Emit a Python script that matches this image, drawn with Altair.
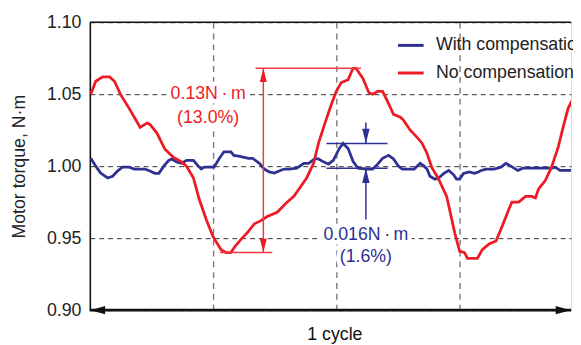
import altair as alt
import pandas as pd

# ---- data (phase in degrees of the displayed window, torque in N·m) ----
red_phase = [0.7, 4.3, 9.4, 14.4, 18.0, 22.3, 28.8, 36.7, 41.8, 43.9, 49.0, 54.7, 61.2, 67.0, 70.6,
             75.6, 79.9, 85.0, 90.0, 95.8, 99.4, 103.0, 105.8, 110.2, 115.2, 120.2, 124.6, 129.6,
             136.8, 144.0, 149.0, 153.4, 158.4, 163.4, 167.0, 171.4, 176.4, 180.0, 183.6, 188.6,
             192.2, 194.4, 199.4, 203.8, 206.6, 210.2, 213.8, 217.4, 221.8, 226.8, 229.0, 234.0,
             239.0, 242.6, 246.2, 249.8, 254.2, 260.6, 266.4, 270.0, 273.6, 275.8, 283.0, 286.6,
             291.6, 296.6, 301.0, 306.0, 308.2, 313.2, 318.2, 322.6, 325.4, 327.6, 332.6, 337.0,
             342.0, 345.6, 349.2, 352.8]
red_torque = [1.050, 1.059, 1.062, 1.062, 1.059, 1.050, 1.040, 1.027, 1.030, 1.029, 1.023, 1.012,
              1.006, 1.003, 1.000, 0.992, 0.977, 0.963, 0.951, 0.942, 0.940, 0.940, 0.944, 0.949,
              0.954, 0.960, 0.962, 0.965, 0.968, 0.975, 0.979, 0.985, 0.992, 1.002, 1.016, 1.029,
              1.043, 1.052, 1.058, 1.060, 1.068, 1.068, 1.061, 1.051, 1.050, 1.052, 1.052, 1.045,
              1.036, 1.034, 1.032, 1.025, 1.020, 1.016, 1.009, 0.999, 0.992, 0.979, 0.954, 0.941,
              0.940, 0.936, 0.936, 0.942, 0.946, 0.948, 0.958, 0.970, 0.975, 0.975, 0.979, 0.979,
              0.978, 0.984, 0.990, 0.999, 1.013, 1.027, 1.040, 1.047]

blue_phase = [0.7, 4.3, 7.9, 13.0, 16.6, 20.2, 23.8, 28.8, 32.4, 40.3, 43.9, 47.5, 50.4, 54.0, 57.6,
              59.8, 63.4, 67.0, 70.6, 75.6, 79.2, 81.4, 83.5, 90.7, 94.3, 97.9, 103.0, 105.1, 108.7,
              115.9, 118.8, 123.8, 127.4, 131.0, 134.6, 138.2, 141.8, 145.4, 151.2, 156.2, 159.8,
              164.2, 167.0, 170.6, 174.2, 177.8, 182.2, 185.0, 188.6, 192.2, 195.8, 201.6, 206.6,
              210.2, 213.8, 218.2, 221.8, 225.4, 228.2, 236.9, 241.2, 244.1, 246.2, 248.4, 252.0,
              254.9, 258.5, 262.1, 265.7, 267.8, 270.0, 272.9, 277.2, 280.8, 283.7, 285.8, 289.4,
              295.2, 300.2, 303.8, 307.4, 312.5, 316.1, 337.7, 339.8, 343.4, 352.1]
blue_torque = [1.0055, 1.000, 0.9952, 0.9918, 0.993, 0.9966, 0.9993, 0.9993, 0.998, 0.998, 0.9966,
               0.995, 0.995, 1.000, 1.004, 1.005, 1.003, 1.002, 1.004, 1.004, 1.000, 0.998, 0.9993,
               0.9993, 1.005, 1.010, 1.010, 1.0075, 1.007, 1.0055, 1.0055, 1.002, 0.998, 0.996,
               0.9952, 0.9966, 0.998, 0.998, 0.9986, 1.002, 1.002, 1.005, 1.005, 1.003, 1.0014,
               1.004, 1.0123, 1.0158, 1.0123, 1.0034, 0.9986, 0.998, 0.998, 1.0014, 1.0055, 1.0075,
               1.005, 1.000, 0.998, 0.998, 1.002, 1.000, 0.998, 0.993, 0.991, 0.992, 0.995, 0.997,
               0.994, 0.991, 0.991, 0.995, 0.996, 0.995, 0.996, 0.997, 0.998, 0.998, 0.9993, 1.002,
               1.000, 0.997, 0.9986, 0.9986, 0.9993, 0.997, 0.997]

series_names = ["With compensation", "No compensation"]
series_colors = ["#2e3192", "#ed1c24"]

y_ticks = [0.90, 0.95, 1.00, 1.05, 1.10]
x_grid = [90, 180, 270]
x_max = 351.4
y_min, y_max = 0.90, 1.10

# annotations: segments (x, y, x2, y2)
red_seg_x = [121.0, 95.0, 126.7]
red_seg_y = [1.068, 0.940, 0.940]
red_seg_x2 = [198.0, 133.2, 126.7]
red_seg_y2 = [1.068, 0.940, 1.068]

blue_seg_x = [172.8, 172.8, 201.6, 201.6]
blue_seg_y = [1.0158, 0.9986, 1.0303, 0.963]
blue_seg_x2 = [217.4, 217.4, 201.6, 201.6]
blue_seg_y2 = [1.0158, 0.9986, 1.0158, 0.9986]

red_text = ["0.13N\u2009·\u2009m", "(13.0%)"]
red_text_x = [86.4, 86.4]
red_text_y = [1.050, 1.0336]
blue_text = ["0.016N\u2009·\u2009m", "(1.6%)"]
blue_text_x = [201.6, 201.6]
blue_text_y = [0.952, 0.937]

FONT = "Liberation Sans"

# ---- frames ----
lines_df = pd.concat([
    pd.DataFrame({"x": blue_phase, "y": blue_torque, "series": series_names[0]}),
    pd.DataFrame({"x": red_phase, "y": red_torque, "series": series_names[1]}),
])
blue_df = lines_df[lines_df.series == series_names[0]]
red_df = lines_df[lines_df.series == series_names[1]]

xscale = alt.Scale(domain=[0, x_max], nice=False, zero=False)
yscale = alt.Scale(domain=[y_min, y_max], nice=False, zero=False)
xaxis = alt.Axis(values=x_grid, labels=False, ticks=False, domain=False, grid=True,
                 gridDash=[6, 5], gridColor="#7a7a7a", gridWidth=1.4,
                 title="1 cycle", titleFontSize=18, titleFontWeight="normal", titleColor="#111",
                 titleFont=FONT, titleX=248, titleY=30, titleBaseline="alphabetic")
yaxis = alt.Axis(values=y_ticks, format=".2f", ticks=False, domain=True, domainColor="#111",
                 domainWidth=1.6, grid=True, gridDash=[5, 4], gridColor="#333", gridWidth=1,
                 labelFontSize=18, labelFont=FONT, labelColor="#222", labelPadding=9,
                 title="Motor torque, N·m", titleFontSize=18, titleFontWeight="normal",
                 titleFont=FONT, titleColor="#222", titleX=-71, titleY=146,
                 titleBaseline="middle", titleAlign="center")

X = alt.X("x:Q", scale=xscale, axis=xaxis)
Y = alt.Y("y:Q", scale=yscale, axis=yaxis)

cscale = alt.Scale(domain=series_names, range=series_colors)
legend = alt.Legend(orient="none", legendX=311, legendY=9, title=None, symbolType="stroke",
                    symbolSize=676, symbolStrokeWidth=3, labelFontSize=18, labelFont=FONT,
                    labelColor="#222", labelOffset=11, rowPadding=4, padding=0, labelLimit=300)
C = alt.Color("series:N", scale=cscale, legend=legend)

blue_line = alt.Chart(blue_df).mark_line(strokeWidth=2.8, clip=True).encode(x=X, y=Y, color=C)
red_line = alt.Chart(red_df).mark_line(strokeWidth=2.8, clip=True).encode(x=X, y=Y, color=C)

# frame: top border and bottom double arrow
frame_df = pd.DataFrame({"x": [0.0, 0.0], "x2": [x_max, x_max], "y": [y_max, y_min]})
top_rule = alt.Chart(frame_df.iloc[[0]]).mark_rule(color="#111", strokeWidth=1.6).encode(
    x=X, x2="x2:Q", y=Y)
bottom_rule = alt.Chart(frame_df.iloc[[1]]).mark_rule(color="#111", strokeWidth=2.6).encode(
    x=X, x2="x2:Q", y=Y)
left_head = alt.Chart(pd.DataFrame({"x": [0.0], "y": [y_min]})).mark_point(
    shape="M-1,0L1,-0.55L1,0.55Z", size=225, filled=True, opacity=1, color="#111",
    xOffset=8).encode(x=X, y=Y)
right_head = alt.Chart(pd.DataFrame({"x": [x_max], "y": [y_min]})).mark_point(
    shape="M1,0L-1,-0.55L-1,0.55Z", size=225, filled=True, opacity=1, color="#111",
    xOffset=-8).encode(x=X, y=Y)

# annotations
red_seg = alt.Chart(pd.DataFrame({"x": red_seg_x, "y": red_seg_y, "x2": red_seg_x2,
                                  "y2": red_seg_y2})).mark_rule(
    color="#ef3a42", strokeWidth=1.5).encode(x=X, y=Y, x2="x2:Q", y2="y2:Q")
blue_seg = alt.Chart(pd.DataFrame({"x": blue_seg_x, "y": blue_seg_y, "x2": blue_seg_x2,
                                   "y2": blue_seg_y2})).mark_rule(
    color="#2e3192", strokeWidth=1.5).encode(x=X, y=Y, x2="x2:Q", y2="y2:Q")

UP = "M0,-1L0.5,1L-0.5,1Z"
DOWN = "M0,1L0.5,-1L-0.5,-1Z"
red_up = alt.Chart(pd.DataFrame({"x": [red_seg_x[2]], "y": [red_seg_y2[2]]})).mark_point(
    shape=UP, size=196, filled=True, opacity=1, color="#ed1c24", yOffset=7).encode(x=X, y=Y)
red_down = alt.Chart(pd.DataFrame({"x": [red_seg_x[2]], "y": [red_seg_y[2]]})).mark_point(
    shape=DOWN, size=196, filled=True, opacity=1, color="#ed1c24", yOffset=-7).encode(x=X, y=Y)
blue_down = alt.Chart(pd.DataFrame({"x": [blue_seg_x[2]], "y": [blue_seg_y2[2]]})).mark_point(
    shape=DOWN, size=225, filled=True, opacity=1, color="#2e3192", yOffset=-7.5).encode(x=X, y=Y)
blue_up = alt.Chart(pd.DataFrame({"x": [blue_seg_x[3]], "y": [blue_seg_y2[3]]})).mark_point(
    shape=UP, size=225, filled=True, opacity=1, color="#2e3192", yOffset=7.5).encode(x=X, y=Y)

texts_df = pd.DataFrame({"x": red_text_x + blue_text_x, "y": red_text_y + blue_text_y,
                         "t": red_text + blue_text,
                         "c": [series_colors[1]] * 2 + [series_colors[0]] * 2})
halo = alt.Chart(texts_df).mark_text(fontSize=18, font=FONT, baseline="middle", align="center",
                                     stroke="white", strokeWidth=9, strokeJoin="round",
                                     fill="white").encode(x=X, y=Y, text="t:N")
label = alt.Chart(texts_df).mark_text(fontSize=18, font=FONT, baseline="middle",
                                      align="center").encode(
    x=X, y=Y, text="t:N", color=alt.Color("c:N", scale=None, legend=None))

chart = alt.layer(
    blue_line, red_line, top_rule, bottom_rule, left_head, right_head,
    red_seg, blue_seg, red_up, red_down, blue_down, blue_up, halo, label
).properties(
    width=488, height=292,
    autosize=alt.AutoSizeParams(type="none"),
    padding={"left": 83, "top": 12, "right": 2, "bottom": 37},
).configure_view(stroke=None).configure(font=FONT)

chart.save("out.html", embed_options={"renderer": "svg", "actions": False})
